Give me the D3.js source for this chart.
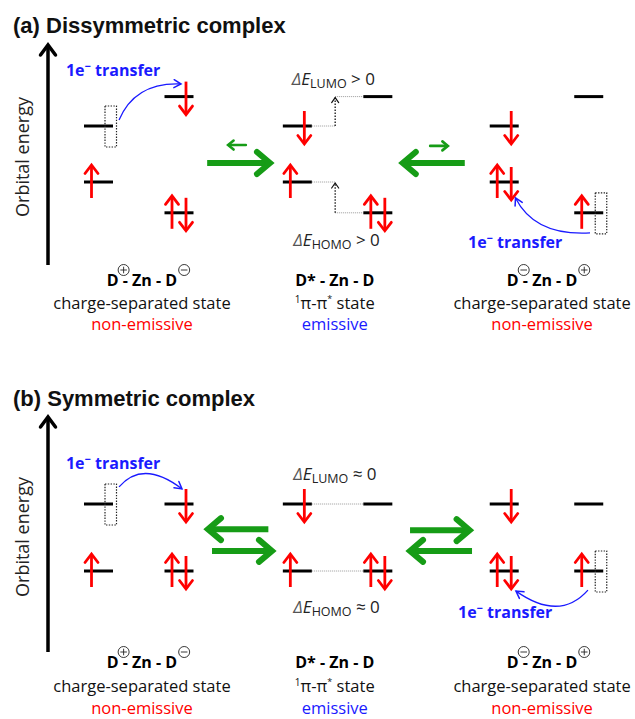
<!DOCTYPE html>
<html><head><meta charset="utf-8">
<script src="https://cdn.jsdelivr.net/npm/d3@7"></script>
<style>body{margin:0;background:#fff}svg{display:block}</style>
</head><body>
<svg id="c" width="635" height="719"></svg>
<script>
// ---------------- data ----------------
const panelTitles = ["(a) Dissymmetric complex", "(b) Symmetric complex"];
const axisLabel = "Orbital energy";
const stateFormulas = ["D - Zn - D", "D* - Zn - D", "D - Zn - D"];
const stateCharges = [["+", "-"], [null, null], ["-", "+"]];
const stateKinds = ["charge-separated state", "π-π state", "charge-separated state"];
const stateEmission = ["non-emissive", "emissive", "non-emissive"];
// donor columns (two donors per state), in column units
const columnPos = [0, 1, 2.47, 3.47, 5.04, 6.09];
// energy levels: [column, energy, electrons]
const levelsA = [[0, 2, "none"], [0, 0, "up"], [1, 3.05, "down"], [1, -1.1, "pair"],
                 [2, 2, "down"], [2, 0, "up"], [3, 3.05, "none"], [3, -1.1, "pair"],
                 [4, 2, "down"], [4, 0, "pair"], [5, 3.05, "none"], [5, -1.1, "up"]];
const levelsB = [[0, 2, "none"], [0, 0, "up"], [1, 2, "down"], [1, 0, "pair"],
                 [2, 2, "down"], [2, 0, "up"], [3, 2, "none"], [3, 0, "pair"],
                 [4, 2, "down"], [4, 0, "pair"], [5, 2, "none"], [5, 0, "up"]];
// hole boxes: [column, energy]
const holesA = [[0, 2], [5, -1.1]];
const holesB = [[0, 2], [5, 0]];
// electron transfer curves: start, control, end ([column units, energy]), label anchor
const transfersA = [
  {from: [0.255, 2.21], ctrl: [0.453, 3.57], to: [1.025, 3.5], label: [-0.404, 3.79]},
  {from: [6.106, -1.82], ctrl: [5.42, -1.93], to: [5.18, -0.57], label: [4.59, -2.36]}];
const transfersB = [
  {from: [0.255, 2.51], ctrl: [0.553, 3.34], to: [1.037, 2.45], label: [-0.404, 3.04]},
  {from: [6.08, -0.57], ctrl: [5.73, -1.52], to: [5.186, -0.6], label: [4.466, -1.40]}];
// equilibrium arrows: x1 -> x2 (column units), energy, big/small
const equilA = [{x1: 1.35, x2: 2.13, E: 0.68, big: true}, {x1: 1.83, x2: 1.61, E: 1.32, big: false},
                {x1: 4.55, x2: 3.78, E: 0.68, big: true}, {x1: 4.12, x2: 4.34, E: 1.29, big: false}];
const equilB = [{x1: 2.11, x2: 1.36, E: 1.25, big: true}, {x1: 1.41, x2: 2.155, E: 0.60, big: true},
                {x1: 3.87, x2: 4.61, E: 1.22, big: true}, {x1: 4.64, x2: 3.87, E: 0.60, big: true}];
// gap connectors between D* and D (middle state): energies at col 2 and col 3
const gapsA = [{E1: 2, E2: 3.05, riser: 2.94}, {E1: 0, E2: -1.1, riser: 2.94}];
const gapsB = [{E1: 2, E2: 2, riser: null}, {E1: 0, E2: 0, riser: null}];
// gap labels: [orbital, relation, column pos, energy]
const gapLabelsA = [["LUMO", "> 0", 2.40, 3.46], ["HOMO", "> 0", 2.42, -2.29]];
const gapLabelsB = [["LUMO", "≈ 0", 2.42, 2.72], ["HOMO", "≈ 0", 2.42, -1.25]];

// ---------------- layout ----------------
const RED = "#ff0000", GREEN = "#169c16", BLUE = "#1a1aff";
const FONT = "'Open Sans', 'Noto Sans', sans-serif";
const layouts = [
  {title: 33, yRange: [182, 126], axis: [265, 45], axisLabelY: 157, labels: [286, 309, 330],
   levels: levelsA, holes: holesA, transfers: transfersA, equil: equilA, gaps: gapsA, gapLabels: gapLabelsA},
  {title: 406, yRange: [571, 504], axis: [652, 417], axisLabelY: 537, labels: [668, 692, 714],
   levels: levelsB, holes: holesB, transfers: transfersB, equil: equilB, gaps: gapsB, gapLabels: gapLabelsB}
];
const labelCenters = [0.54, 2.935, 5.51];

const svg = d3.select("#c");
const x = d3.scaleLinear().domain([0, 1]).range([98.5, 179]);

function chevron(g, tipX, tipY, angle, len, half, color, width) {
  const ca = Math.cos(angle), sa = Math.sin(angle);
  const p = (a, b) => [tipX - a * ca + b * sa, tipY - a * sa - b * ca];
  g.append("path")
    .attr("d", d3.line()([p(len, half), [tipX, tipY], p(len, -half)]))
    .attr("fill", "none").attr("stroke", color).attr("stroke-width", width)
    .attr("stroke-linecap", "round").attr("stroke-linejoin", "miter");
}

layouts.forEach((L, pi) => {
  const g = svg.append("g");
  const y = d3.scaleLinear().domain([0, 2]).range(L.yRange);

  // title
  g.append("text").attr("x", 13).attr("y", L.title)
    .attr("font-family", "'Liberation Sans', Arial, sans-serif").attr("font-weight", "bold")
    .attr("font-size", 22).attr("fill", "#111").text(panelTitles[pi]);

  // energy axis
  g.append("line").attr("x1", 48).attr("x2", 48).attr("y1", L.axis[0]).attr("y2", L.axis[1] + 2)
    .attr("stroke", "#000").attr("stroke-width", 3.5);
  chevron(g, 48, L.axis[1], -Math.PI / 2, 10, 7.5, "#000", 3.5);
  g.append("text").attr("transform", `translate(29,${L.axisLabelY}) rotate(-90)`)
    .attr("text-anchor", "middle").attr("font-family", FONT).attr("font-size", 18)
    .attr("fill", "#222").text(axisLabel);

  // gap connectors
  L.gaps.forEach(c => {
    const xa = x(columnPos[2]) + 14.5, xb = x(columnPos[3]) - 14.5;
    if (c.riser === null) {
      g.append("line").attr("x1", xa).attr("x2", xb).attr("y1", y(c.E1)).attr("y2", y(c.E2))
        .attr("stroke", "#999").attr("stroke-width", 1).attr("stroke-dasharray", "1,1");
    } else {
      const xr = x(c.riser);
      g.append("line").attr("x1", xa).attr("x2", xr).attr("y1", y(c.E1)).attr("y2", y(c.E1))
        .attr("stroke", "#999").attr("stroke-width", 1).attr("stroke-dasharray", "1,1");
      g.append("line").attr("x1", xr).attr("x2", xb).attr("y1", y(c.E2)).attr("y2", y(c.E2))
        .attr("stroke", "#999").attr("stroke-width", 1).attr("stroke-dasharray", "1,1");
      const lo = Math.min(c.E1, c.E2), hi = Math.max(c.E1, c.E2);
      g.append("line").attr("x1", xr).attr("x2", xr).attr("y1", y(lo)).attr("y2", y(hi) + 1)
        .attr("stroke", "#111").attr("stroke-width", 1.3).attr("stroke-dasharray", "1.5,1.5");
      chevron(g, xr, y(hi) + 1, -Math.PI / 2, 5, 3.5, "#111", 1.2);
    }
  });

  // gap labels
  L.gapLabels.forEach(d => {
    const t = g.append("text").attr("x", x(d[2])).attr("y", y(d[3]))
      .attr("font-family", FONT).attr("font-size", 17).attr("fill", "#222");
    t.append("tspan").attr("font-style", "italic").attr("fill", "#555").text("Δ");
    t.append("tspan").attr("font-style", "italic").text("E");
    t.append("tspan").attr("font-size", 12.5).attr("dy", 3).text(d[0]);
    t.append("tspan").attr("dy", -3).text(" " + d[1]);
  });

  // energy levels
  L.levels.forEach(([c, E, e]) => {
    const cx = x(columnPos[c]), cy = y(E);
    g.append("line").attr("x1", cx - 14.5).attr("x2", cx + 14.5).attr("y1", cy).attr("y2", cy)
      .attr("stroke", "#000").attr("stroke-width", 3);
    const up = ax => {
      g.append("line").attr("x1", ax).attr("x2", ax).attr("y1", cy + 16).attr("y2", cy - 16)
        .attr("stroke", RED).attr("stroke-width", 2.8);
      chevron(g, ax, cy - 17, -Math.PI / 2, 8.5, 6.5, RED, 2.8);
    };
    const down = ax => {
      g.append("line").attr("x1", ax).attr("x2", ax).attr("y1", cy - 15).attr("y2", cy + 17)
        .attr("stroke", RED).attr("stroke-width", 2.8);
      chevron(g, ax, cy + 18, Math.PI / 2, 8.5, 6.5, RED, 2.8);
    };
    if (e === "up") up(cx - 7);
    if (e === "down") down(cx + 7);
    if (e === "pair") { up(cx - 7); down(cx + 7); }
  });

  // hole boxes
  L.holes.forEach(([c, E]) => {
    g.append("rect").attr("x", x(columnPos[c]) + 6.5).attr("y", y(E) - 20)
      .attr("width", 11.5).attr("height", 41).attr("fill", "none")
      .attr("stroke", "#222").attr("stroke-width", 1.2).attr("stroke-dasharray", "1.4,1.4");
  });

  // electron transfer curves
  L.transfers.forEach(t => {
    const P = p => [x(p[0]), y(p[1])];
    const a = P(t.from), c = P(t.ctrl), b = P(t.to);
    g.append("path").attr("d", `M${a}Q${c} ${b}`).attr("fill", "none")
      .attr("stroke", BLUE).attr("stroke-width", 1.3);
    chevron(g, b[0], b[1], Math.atan2(b[1] - c[1], b[0] - c[0]), 7, 4, BLUE, 1.5);
    const tx = g.append("text").attr("x", x(t.label[0])).attr("y", y(t.label[1]))
      .attr("font-family", FONT).attr("font-weight", "bold").attr("font-size", 16).attr("fill", BLUE);
    tx.append("tspan").text("1e");
    tx.append("tspan").attr("font-size", 11).attr("dy", -6).text("−");
    tx.append("tspan").attr("dy", 6).text(" transfer");
  });

  // equilibrium arrows
  L.equil.forEach(d => {
    const x1 = x(d.x1), x2 = x(d.x2), yy = y(d.E);
    const dir = x2 > x1 ? 1 : -1;
    const w = d.big ? 6 : 2.6;
    g.append("line").attr("x1", x1).attr("x2", x2 - dir * (d.big ? 3 : 1)).attr("y1", yy).attr("y2", yy)
      .attr("stroke", GREEN).attr("stroke-width", w).attr("stroke-linecap", d.big ? "butt" : "round");
    chevron(g, x2, yy, dir > 0 ? 0 : Math.PI, d.big ? 13 : 5.5, d.big ? 11 : 4.5, GREEN, w);
  });

  // state labels
  labelCenters.forEach((lc, si) => {
    const cx = x(lc);
    const f = g.append("text").attr("x", cx).attr("y", L.labels[0]).attr("text-anchor", "middle")
      .attr("font-family", FONT).attr("font-weight", "bold").attr("font-size", 16).attr("fill", "#000")
      .text(stateFormulas[si]);
    const ch = stateCharges[si];
    if (ch[0]) {
      const node = f.node(), n = stateFormulas[si].length;
      const e1 = node.getEndPositionOfChar(0).x, e2 = node.getEndPositionOfChar(n - 1).x;
      [[e1 + 5, ch[0]], [e2 + 7, ch[1]]].forEach(([ccx, s]) => {
        const ccy = L.labels[0] - 16;
        g.append("circle").attr("cx", ccx).attr("cy", ccy).attr("r", 5.5)
          .attr("fill", "#fff").attr("stroke", "#222").attr("stroke-width", 0.9);
        g.append("line").attr("x1", ccx - 3.3).attr("x2", ccx + 3.3).attr("y1", ccy).attr("y2", ccy)
          .attr("stroke", "#222").attr("stroke-width", 0.9);
        if (s === "+") g.append("line").attr("x1", ccx).attr("x2", ccx).attr("y1", ccy - 3.3).attr("y2", ccy + 3.3)
          .attr("stroke", "#222").attr("stroke-width", 0.9);
      });
    }
    const k = g.append("text").attr("x", cx).attr("y", L.labels[1]).attr("text-anchor", "middle")
      .attr("font-family", FONT).attr("font-size", 16.5).attr("fill", "#111");
    if (si === 1) {
      k.append("tspan").attr("font-size", 10).attr("dy", -6).text("1");
      k.append("tspan").attr("dy", 6).text("π-π");
      k.append("tspan").attr("font-size", 9).attr("dy", -7).text("*");
      k.append("tspan").attr("dy", 7).text(" state");
    } else {
      k.text(stateKinds[si]);
    }
    g.append("text").attr("x", cx).attr("y", L.labels[2]).attr("text-anchor", "middle")
      .attr("font-family", FONT).attr("font-size", 16.5)
      .attr("fill", si === 1 ? BLUE : RED).text(stateEmission[si]);
  });
});
</script>
</body></html>
